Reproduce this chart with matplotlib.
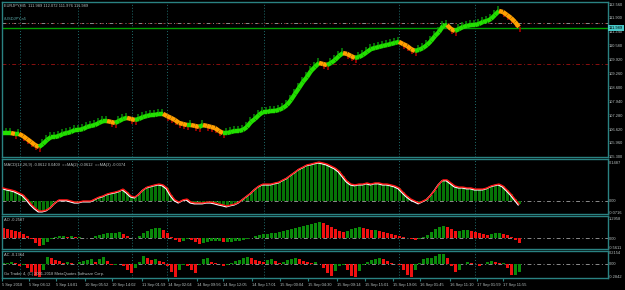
import numpy as np
import matplotlib.pyplot as plt
import matplotlib.transforms as mtransforms
from matplotlib.collections import LineCollection

W, H = 625, 290
FRAME = '#2a8282'
TXT = '#b8c0c0'
FONT = 'Liberation Sans'
FS = 2.9

# one sample every 4 px, first bar at x=3
price = [106.43, 106.43, 106.43, 106.39, 106.39, 106.29, 106.15, 106.01, 105.86, 105.77,
         105.91, 106.10, 106.24, 106.24, 106.29, 106.39, 106.43, 106.48, 106.58, 106.58,
         106.62, 106.72, 106.77, 106.81, 106.91, 107.00, 107.00, 106.96, 106.91, 107.00,
         107.10, 107.15, 107.10, 107.05, 107.10, 107.19, 107.24, 107.29, 107.29, 107.34,
         107.34, 107.24, 107.15, 107.05, 106.91, 106.86, 106.81, 106.81, 106.77, 106.72,
         106.81, 106.77, 106.72, 106.67, 106.53, 106.43, 106.43, 106.48, 106.53, 106.53,
         106.58, 106.72, 106.96, 107.10, 107.29, 107.43, 107.43, 107.48, 107.48, 107.53,
         107.62, 107.76, 108.00, 108.29, 108.57, 108.86, 109.09, 109.38, 109.57, 109.76,
         109.71, 109.66, 109.76, 109.90, 110.09, 110.23, 110.19, 110.09, 110.00, 110.04,
         110.14, 110.28, 110.42, 110.47, 110.52, 110.57, 110.61, 110.66, 110.71, 110.76,
         110.66, 110.57, 110.42, 110.33, 110.38, 110.47, 110.61, 110.80, 111.04, 111.23,
         111.52, 111.56, 111.37, 111.28, 111.37, 111.47, 111.52, 111.56, 111.56, 111.61,
         111.71, 111.75, 111.85, 112.04, 112.23, 112.18, 112.04, 111.90, 111.71, 111.47]
macd = [0.047, 0.043, 0.040, 0.036, 0.029, 0.022, 0.007, -0.011, -0.025, -0.036,
        -0.036, -0.032, -0.022, -0.007, 0.004, 0.004, 0.004, 0.000, -0.004, -0.004,
        0.000, 0.000, 0.000, 0.007, 0.014, 0.018, 0.025, 0.029, 0.032, 0.036,
        0.043, 0.032, 0.018, 0.014, 0.025, 0.040, 0.050, 0.054, 0.058, 0.061,
        0.058, 0.047, 0.022, 0.004, -0.004, 0.004, 0.007, -0.004, -0.007, -0.007,
        -0.007, -0.004, -0.004, -0.007, -0.011, -0.014, -0.018, -0.014, -0.011, -0.004,
        0.007, 0.018, 0.029, 0.043, 0.054, 0.061, 0.061, 0.061, 0.065, 0.068,
        0.076, 0.083, 0.094, 0.104, 0.115, 0.122, 0.130, 0.133, 0.137, 0.140,
        0.137, 0.133, 0.126, 0.119, 0.108, 0.090, 0.072, 0.061, 0.058, 0.061,
        0.061, 0.065, 0.061, 0.065, 0.065, 0.061, 0.061, 0.058, 0.054, 0.047,
        0.032, 0.018, 0.007, 0.000, -0.007, 0.000, 0.007, 0.022, 0.040, 0.061,
        0.076, 0.076, 0.065, 0.054, 0.050, 0.050, 0.047, 0.047, 0.043, 0.043,
        0.043, 0.047, 0.054, 0.058, 0.061, 0.054, 0.040, 0.025, 0.007, -0.011]
ao = [0.633, 0.573, 0.513, 0.452, 0.392, 0.271, 0.151, -0.030, -0.271, -0.452,
      -0.392, -0.211, -0.030, 0.090, 0.151, 0.151, 0.090, 0.151, 0.090, 0.090,
      0.030, 0.030, 0.030, 0.151, 0.211, 0.271, 0.332, 0.332, 0.332, 0.392,
      0.271, 0.151, 0.030, 0.030, 0.151, 0.332, 0.452, 0.573, 0.633, 0.633,
      0.513, 0.332, 0.090, -0.090, -0.211, -0.151, -0.030, -0.090, -0.211, -0.332,
      -0.271, -0.211, -0.151, -0.151, -0.151, -0.211, -0.211, -0.211, -0.151, -0.151,
      -0.090, -0.030, 0.030, 0.151, 0.211, 0.271, 0.271, 0.332, 0.332, 0.392,
      0.452, 0.513, 0.573, 0.633, 0.693, 0.754, 0.814, 0.874, 0.935, 0.995,
      0.935, 0.814, 0.693, 0.573, 0.452, 0.392, 0.452, 0.573, 0.633, 0.693,
      0.633, 0.573, 0.513, 0.513, 0.452, 0.392, 0.332, 0.271, 0.211, 0.151,
      0.090, 0.030, -0.030, -0.090, -0.030, 0.090, 0.211, 0.392, 0.573, 0.693,
      0.754, 0.693, 0.573, 0.452, 0.452, 0.513, 0.513, 0.452, 0.392, 0.332,
      0.271, 0.211, 0.271, 0.332, 0.332, 0.271, 0.211, 0.090, -0.090, -0.271]
ac = [0.009, 0.009, 0.027, 0.009, -0.045, -0.027, -0.081, -0.153, -0.225, -0.243,
      -0.117, 0.117, 0.099, 0.063, 0.045, 0.009, 0.027, 0.009, -0.009, 0.027,
      0.045, 0.063, 0.081, 0.027, 0.081, 0.117, 0.045, -0.027, -0.027, -0.009,
      -0.045, -0.117, -0.171, -0.081, 0.027, 0.135, 0.099, 0.063, 0.081, 0.045,
      0.027, -0.045, -0.153, -0.243, -0.117, -0.027, -0.045, -0.117, -0.171, -0.027,
      0.081, 0.099, 0.027, 0.009, -0.009, -0.045, -0.027, 0.009, 0.045, 0.063,
      0.099, 0.117, 0.099, 0.063, 0.045, 0.027, 0.063, 0.081, 0.045, 0.009,
      0.027, 0.063, 0.081, 0.099, 0.081, 0.045, 0.027, 0.009, 0.027, -0.009,
      -0.081, -0.171, -0.225, -0.135, -0.045, -0.027, -0.117, -0.225, -0.243, -0.135,
      -0.027, 0.027, 0.063, 0.081, 0.099, 0.081, 0.045, 0.009, -0.009, -0.027,
      -0.117, -0.207, -0.243, -0.117, 0.009, 0.081, 0.099, 0.099, 0.135, 0.171,
      0.171, 0.099, -0.045, -0.153, -0.117, -0.009, 0.027, 0.009, -0.009, -0.045,
      -0.009, 0.027, 0.045, 0.027, 0.009, 0.009, -0.081, -0.207, -0.207, -0.153]

date_labels = ['5 Sep 2018', '5 Sep 04:12', '5 Sep 14:01', '10 Sep 05:52', '10 Sep 14:02',
               '11 Sep 01:59', '14 Sep 02:04', '14 Sep 09:56', '14 Sep 12:05', '14 Sep 17:01',
               '15 Sep 00:04', '15 Sep 04:30', '15 Sep 09:14', '15 Sep 15:01', '15 Sep 19:06',
               '16 Sep 01:45', '16 Sep 11:10', '17 Sep 01:59', '17 Sep 11:55']
date_px = [2, 29, 56, 85, 112, 142, 168, 197, 223, 252, 280, 308, 337, 365, 393, 420, 450, 477, 503]
sep_px = [20, 78, 132, 167, 264, 399, 475]

price_ticks = [112.560, 111.900, 111.240, 110.580, 109.920, 109.260, 108.600, 107.940,
               107.280, 106.620, 105.960, 105.300]
bid = 111.42
bid_label = '111.989'
line_grey = 111.66
line_red = 109.71

n = len(price)
x = np.arange(n)
STEP = 4.0


def px2x(p):
    return (p - 3) / STEP


def add_ax(top, bottom):
    ax = fig.add_axes([2 / W, 1 - bottom / H, 606 / W, (bottom - top) / H])
    ax.set_facecolor('black')
    for s in ax.spines.values():
        s.set_color(FRAME)
        s.set_linewidth(1)
    ax.set_xlim(px2x(2), px2x(608))
    ax.set_xticks([])
    ax.yaxis.tick_right()
    ax.tick_params(axis='y', length=0, labelsize=FS, labelcolor=TXT, pad=0.8)
    for p in sep_px:
        ax.axvline(px2x(p), color='#1f6e6e', lw=0.7, ls=(0, (1, 2)), zorder=0)
    return ax


def dashdot(ax, y, c):
    ax.axhline(y, color=c, lw=0.7, ls=(0, (4, 2.5, 1, 2.5)), zorder=0)


def label(ax, s, y, c=TXT):
    ax.text(0.003, y, s, transform=ax.transAxes, fontsize=FS, family=FONT, color=c, va='top')


def right_labels(ax, ticks, labels):
    ax.set_yticks(ticks)
    ax.set_yticklabels(labels, family=FONT)


def bar_colors(vals):
    # green while the value rises, red while it falls
    c = ['#0a8a0a' if vals[i] >= vals[i - 1] else '#f01010' for i in range(1, len(vals))]
    return [c[0]] + c


fig = plt.figure(figsize=(W / 100, H / 100), dpi=100, facecolor='black')

# ---- main price panel
ax = add_ax(2, 157)
ax.set_ylim(105.2925, 112.655)
right_labels(ax, price_ticks, [f'{v:.3f}' for v in price_ticks])
ax.axhline(bid, color='#00a000', lw=1, zorder=1)
dashdot(ax, line_grey, '#8c8c8c')
ax.axhline(line_grey, color='#7a1010', lw=0.7, ls=(3.5, (1.5, 5.5)), zorder=0)
dashdot(ax, line_red, '#8a1010')
up = np.r_[True, np.diff(price) >= 0]
for i in range(n):
    if up[i]:
        ax.vlines(x[i] - 0.3, price[i], price[i] + 0.22, color='#0a8a0a', lw=1.1, zorder=2)
    else:
        ax.vlines(x[i] + 0.3, price[i] - 0.22, price[i], color='#b80000', lw=1.1, zorder=2)
pts = np.column_stack([x, price])
segs = np.stack([pts[:-1], pts[1:]], axis=1)
cols = np.where(up[1:], '#22e000', '#ffa000')
ax.add_collection(LineCollection(segs, colors=cols, linewidths=3.2, zorder=3, capstyle='butt'))
label(ax, 'EURJPY,M5  111.989 112.072 111.976 111.989', 0.99)
label(ax, '#USDJPY,a5', 0.905, '#5aa8a8')
ax.text(1.0015, (bid - 105.2925) / (112.655 - 105.2925), bid_label, transform=ax.transAxes,
        fontsize=FS, family=FONT, color='black', va='center', zorder=5,
        bbox=dict(boxstyle='square,pad=0.25', fc='#48c8c8', ec='none'))

# ---- MACD
ax2 = add_ax(159, 214)
ax2.set_ylim(-0.0468, 0.1512)
right_labels(ax2, [0.140, 0.0, -0.040], ['0.1487', '0.00', '-0.0716'])
dashdot(ax2, 0, '#8c8c8c')
ax2.bar(x, macd, width=0.75, color='#067406', zorder=1)
shade = mtransforms.offset_copy(ax2.transData, fig=fig, x=-0.8, y=-0.8, units='dots')
ax2.plot(x, macd, color='white', lw=1, zorder=2, transform=shade)
ax2.plot(x, macd, color='#ff1414', lw=1, zorder=3)
label(ax2, 'MACD(12,26,9) -0.0612 0.0409  ==MA(2) -0.0612  ==MA(3) -0.0374', 0.93)

# ---- AO
ax3 = add_ax(216, 249)
ax3.set_ylim(-0.633, 1.3265)
right_labels(ax3, [1.15, 0.0, -0.52], ['1.2958', '0.00', '-0.5611'])
dashdot(ax3, 0, '#8c8c8c')
ax3.bar(x, ao, width=0.75, color=bar_colors(ao), zorder=1)
label(ax3, 'AO -0.2587', 0.94)

# ---- AC
ax4 = add_ax(251, 278)
ax4.set_ylim(-0.261, 0.225)
right_labels(ax4, [0.189, 0.0, -0.243], ['0.2154', '0.00', '-0.2842'])
dashdot(ax4, 0, '#8c8c8c')
ax4.bar(x, ac, width=0.75, color=bar_colors(ac), zorder=1)
label(ax4, 'AC -0.1364', 0.94)
ax4.text(0.003, 0.07, 'Go Trader 4, (C) 2001-2018 MetaQuotes Software Corp.',
         transform=ax4.transAxes, fontsize=FS, family=FONT, color=TXT, va='bottom')
ax4.set_xticks([px2x(p) for p in date_px])
ax4.set_xticklabels(date_labels, ha='left', family=FONT)
ax4.tick_params(axis='x', length=2, color=FRAME, labelsize=FS, labelcolor=TXT, pad=1.8)

fig.savefig('out.png', dpi=100, facecolor='black')
